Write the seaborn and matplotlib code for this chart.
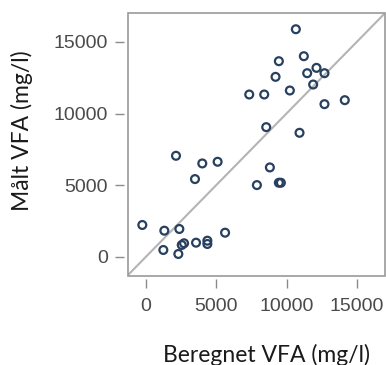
import matplotlib
matplotlib.use("Agg")
import matplotlib.pyplot as plt
import seaborn as sns
import pandas as pd
from matplotlib.patches import Rectangle

# Calculated vs. measured VFA (mg/l)
beregnet = [10665, 11234, 9456, 9219, 11471, 12134, 12703, 11897, 7347, 8414,
            10238, 12703, 14149, 8556, 10926, 2133, 4005, 5096, 3484, 8816,
            7892, 9456, 9599, -264, 1303, 2372, 5627, 1232, 2300, 2543,
            2707, 3561, 4366, 4366]
maalt = [15886, 14003, 13654, 12560, 12816, 13188, 12816, 12025, 11328, 11328,
         11607, 10653, 10932, 9048, 8653, 7048, 6513, 6629, 5420, 6234,
         5001, 5164, 5164, 2214, 1816, 1934, 1676, 468, 189, 817,
         936, 978, 1117, 887]
ticks = [0, 5000, 10000, 15000]
x_label = "Beregnet VFA (mg/l)"
y_label = "Målt VFA (mg/l)"

df = pd.DataFrame({"beregnet": beregnet, "maalt": maalt})

sns.set_style("white")
plt.rcParams["font.family"] = ["Liberation Sans", "DejaVu Sans"]

fig = plt.figure(figsize=(3.86, 3.65), dpi=100)
ax = fig.add_axes([0.331, 0.2438, 0.666, 0.7198])

xlim = (-1300, 17000)
ylim = (-1350, 17000)
ax.set_xlim(*xlim)
ax.set_ylim(*ylim)

# 1:1 reference line
ax.plot([-20000, 40000], [-20000, 40000], color="#b4b4b4", lw=1.5, zorder=1)

sns.scatterplot(data=df, x="beregnet", y="maalt", ax=ax, marker="o",
                s=32, facecolor="none", edgecolor="#27405f", linewidth=1.6,
                zorder=3, legend=False)

# plot frame
ax.add_patch(Rectangle((0, 0), 1, 1, transform=ax.transAxes, fill=False,
                       edgecolor="#9a9a9a", lw=1.2, clip_on=False, zorder=4))

for side in ["left", "bottom"]:
    ax.spines[side].set_position(("outward", 2.5))
    ax.spines[side].set_visible(False)
for side in ["top", "right"]:
    ax.spines[side].set_visible(False)

ax.set_xticks(ticks)
ax.set_yticks(ticks)
ax.set_xticklabels([str(t) for t in ticks])
ax.set_yticklabels([str(t) for t in ticks])
ax.tick_params(axis="both", which="major", direction="out", length=6.5,
               width=1, color="#8a8a8a", labelcolor="#4a4a4a",
               labelsize=14, bottom=True, left=True)
ax.tick_params(axis="x", pad=7)
ax.tick_params(axis="y", pad=5.5)

ax.set_xlabel("")
ax.set_ylabel("")
fig.text(0.69, 0.027, x_label, ha="center", va="center", fontsize=16.5,
         family=["Lato", "DejaVu Sans"], color="#1a1a1a")
fig.text(0.058, 0.641, y_label, ha="center", va="center", rotation=90,
         fontsize=16.5, family=["Lato", "DejaVu Sans"], color="#1a1a1a")

fig.savefig("out.png", dpi=100, facecolor="white")
